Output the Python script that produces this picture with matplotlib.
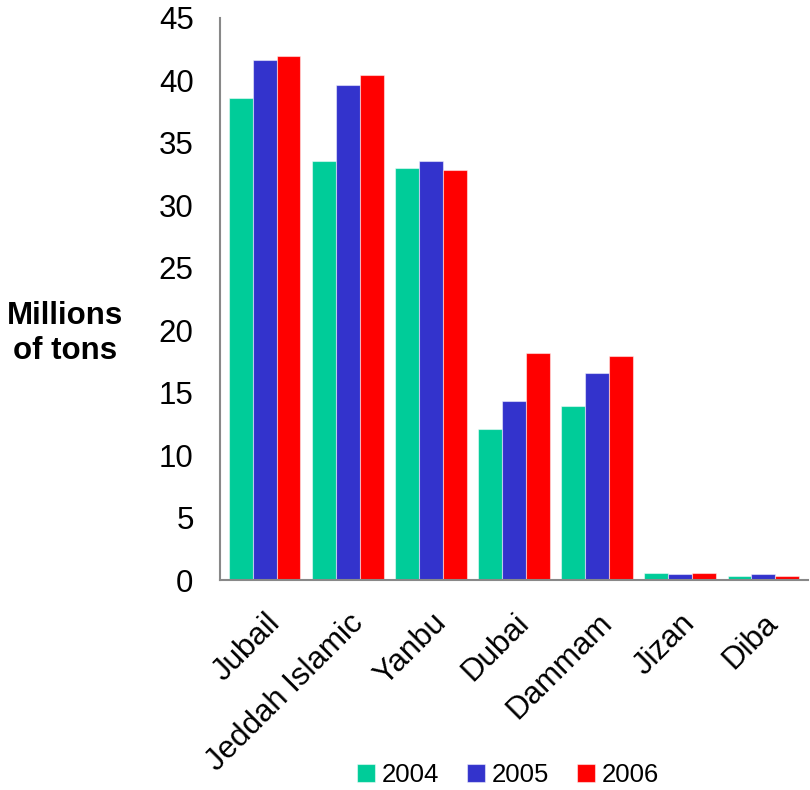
import matplotlib.pyplot as plt
import numpy as np

# ---------------------------------------------------------------------------
# Data
# ---------------------------------------------------------------------------
ports = ["Jubail", "Jeddah Islamic", "Yanbu", "Dubai", "Dammam", "Jizan", "Diba"]
years = ["2004", "2005", "2006"]
v2004 = [38.6, 33.5, 33.0, 12.1, 13.9, 0.55, 0.35]
v2005 = [41.6, 39.6, 33.5, 14.3, 16.6, 0.45, 0.45]
v2006 = [41.9, 40.4, 32.8, 18.2, 17.9, 0.55, 0.3]
yticks = [0, 5, 10, 15, 20, 25, 30, 35, 40, 45]

GREEN = "#00CC99"
BLUE = "#3333CC"
RED = "#FF0000"
FS = 22.5

plt.rcParams["font.family"] = ["Liberation Sans", "DejaVu Sans"]

fig = plt.figure(figsize=(8.1, 7.9), dpi=100)
ax = fig.add_axes([0.2716, 0.2658, 0.7259, 0.7118])

x = np.arange(len(ports))
w = 0.286
for i, (vals, col, lab) in enumerate(zip([v2004, v2005, v2006], [GREEN, BLUE, RED], years)):
    ax.bar(x + (i - 1) * w, vals, width=w, color=col, label=lab,
           edgecolor=(1, 1, 1, 0.5), linewidth=0.8)

ax.set_xlim(-0.54, len(ports) - 0.46)
ax.set_ylim(0, 45)
ax.set_yticks(yticks)
ax.set_yticklabels([str(t) for t in yticks], fontsize=FS)
ax.set_xticks(x)
ax.set_xticklabels(ports, fontsize=FS, rotation=45, ha="right",
                   rotation_mode="anchor")
ax.tick_params(axis="y", length=0, pad=19)
ax.tick_params(axis="x", length=0, pad=20)

for side in ["top", "right"]:
    ax.spines[side].set_visible(False)
for side in ["left", "bottom"]:
    ax.spines[side].set_color("#888888")
    ax.spines[side].set_linewidth(1.5)

fig.text(0.08, 0.578, "Millions\nof tons", fontsize=FS, fontweight="bold",
         ha="center", va="center", linespacing=1.2)

fig.legend(loc="center", bbox_to_anchor=(0.627, 0.019), ncol=3, frameon=False,
           fontsize=18.5, handlelength=0.7, handleheight=0.7, handletextpad=0.25,
           columnspacing=1.1)

fig.savefig("out.png", dpi=100)
